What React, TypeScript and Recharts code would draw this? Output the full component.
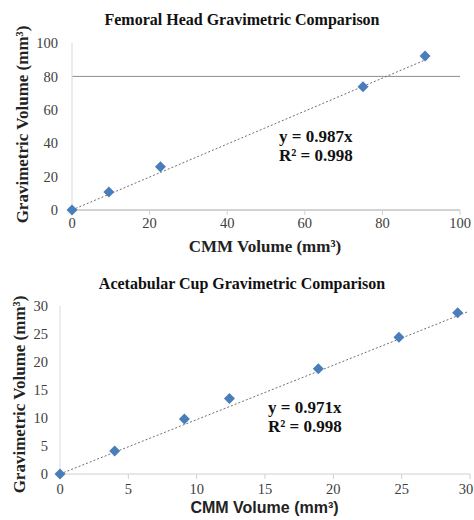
import React from 'react';
import {
    ScatterChart,
    Scatter,
    XAxis,
    YAxis,
    ReferenceLine,
} from 'recharts';

// Femoral head: CMM volume vs gravimetric volume (mm³)
const femCmm = [0, 9.5, 22.8, 75, 91];
const femGrav = [0, 10.8, 25.9, 73.8, 92.2];
const femSlope = 0.987;
const femTrendEnd = 92;
const femTicks = [0, 20, 40, 60, 80, 100];

// Acetabular cup
const cupCmm = [0, 4, 9.1, 12.4, 18.9, 24.8, 29.1];
const cupGrav = [0, 4.1, 9.8, 13.5, 18.8, 24.4, 28.8];
const cupSlope = 0.971;
const cupTrendEnd = 29.8;
const cupTicks = [0, 5, 10, 15, 20, 25, 30];

const SERIF = '"Liberation Serif", "Times New Roman", serif';
const SANS = '"Liberation Sans", Arial, sans-serif';
const BLUE = '#4a7ebb';

const toPoints = (xs: number[], ys: number[]) => xs.map((x, i) => ({ x, y: ys[i] }));
const trend = (slope: number, end: number) => [
    { x: 0, y: 0 },
    { x: end, y: slope * end },
];

const Diamond = (props: any) => {
    const { cx, cy } = props;
    const r = 5.5;
    return (
        <polygon
            points={`${cx},${cy - r} ${cx + r},${cy} ${cx},${cy + r} ${cx - r},${cy}`}
            fill={BLUE}
        />
    );
};

const NoDot = () => <g />;

// tick text drawn by hand so the serif font sticks
const tickTextStyle: React.CSSProperties = { fontFamily: SERIF, fontSize: 14.5 };
const XTick = (props: any) => (
    <text x={props.x} y={props.y} dy="0.71em" textAnchor="middle" fill="#404040" style={tickTextStyle}>
        {props.payload.value}
    </text>
);
const YTick = (props: any) => (
    <text x={props.x} y={props.y} dy="0.355em" textAnchor="end" fill="#404040" style={tickTextStyle}>
        {props.payload.value}
    </text>
);

const abs = (left: number, top: number): React.CSSProperties => ({
    position: 'absolute',
    left,
    top,
    whiteSpace: 'nowrap',
    lineHeight: 1,
});

const App = () => {
    return (
        <div style={{ position: 'absolute', left: 0, top: 0, width: 474, height: 520, background: '#fff', overflow: 'hidden', fontFamily: SERIF }}>
            {/* ---- top chart ---- */}
            <div style={{ position: 'absolute', left: 0, top: 0, width: 474, height: 258 }}>
                <ScatterChart width={474} height={258} margin={{ top: 43, right: 14, left: 0, bottom: 0 }}>
                    <XAxis
                        type="number"
                        dataKey="x"
                        domain={[0, 100]}
                        ticks={femTicks}
                        height={48}
                        stroke="#a6a6a6"
                        tickLine={{ stroke: '#d0d0d0' }}
                        tickSize={5}
                        tickMargin={3}
                        tick={XTick}
                    />
                    <YAxis
                        type="number"
                        dataKey="y"
                        domain={[0, 100]}
                        ticks={femTicks}
                        width={72}
                        stroke="#d9d9d9"
                        tickLine={false}
                        tickSize={0}
                        tickMargin={14}
                        tick={YTick}
                    />
                    <ReferenceLine y={80} stroke="#8c8c8c" strokeWidth={1} />
                    <Scatter
                        data={trend(femSlope, femTrendEnd)}
                        line={{ stroke: '#707070', strokeWidth: 1, strokeDasharray: '2 2' }}
                        shape={NoDot}
                        isAnimationActive={false}
                    />
                    <Scatter data={toPoints(femCmm, femGrav)} shape={Diamond} isAnimationActive={false} />
                </ScatterChart>
                <div style={{ ...abs(0, 12), width: 484, textAlign: 'center', fontFamily: SERIF, fontWeight: 'bold', fontSize: 16, color: '#111' }}>
                    Femoral Head Gravimetric Comparison
                </div>
                <div style={{ ...abs(0, 238), width: 530, textAlign: 'center', fontFamily: SERIF, fontWeight: 'bold', fontSize: 17, color: '#222' }}>
                    CMM Volume (mm³)
                </div>
                <div
                    style={{
                        ...abs(22 - 110, 125 - 9),
                        width: 220,
                        textAlign: 'center',
                        transform: 'rotate(-90deg)',
                        fontFamily: SERIF,
                        fontWeight: 'bold',
                        fontSize: 17,
                        color: '#222',
                    }}
                >
                    Gravimetric Volume (mm³)
                </div>
                <div style={{ ...abs(279, 127), fontFamily: SERIF, fontWeight: 'bold', fontSize: 17, color: '#111', lineHeight: '19px' }}>
                    y = 0.987x
                    <br />
                    R² = 0.998
                </div>
            </div>

            {/* ---- bottom chart ---- */}
            <div style={{ position: 'absolute', left: 0, top: 260, width: 474, height: 260 }}>
                <ScatterChart width={474} height={260} margin={{ top: 46, right: 4, left: 0, bottom: 0 }}>
                    <XAxis
                        type="number"
                        dataKey="x"
                        domain={[0, 30]}
                        ticks={cupTicks}
                        height={46}
                        stroke="#d0d0d0"
                        tickLine={{ stroke: '#d0d0d0' }}
                        tickSize={5}
                        tickMargin={5}
                        tick={XTick}
                    />
                    <YAxis
                        type="number"
                        dataKey="y"
                        domain={[0, 30]}
                        ticks={cupTicks}
                        width={60}
                        stroke="#d9d9d9"
                        tickLine={false}
                        tickSize={0}
                        tickMargin={12}
                        tick={YTick}
                    />
                    <Scatter
                        data={trend(cupSlope, cupTrendEnd)}
                        line={{ stroke: '#707070', strokeWidth: 1, strokeDasharray: '2 2' }}
                        shape={NoDot}
                        isAnimationActive={false}
                    />
                    <Scatter data={toPoints(cupCmm, cupGrav)} shape={Diamond} isAnimationActive={false} />
                </ScatterChart>
                <div style={{ ...abs(0, 16), width: 484, textAlign: 'center', fontFamily: SERIF, fontWeight: 'bold', fontSize: 16, color: '#111' }}>
                    Acetabular Cup Gravimetric Comparison
                </div>
                <div style={{ ...abs(0, 240), width: 529, textAlign: 'center', fontFamily: SANS, fontWeight: 'bold', fontSize: 16, color: '#222' }}>
                    CMM Volume (mm³)
                </div>
                <div
                    style={{
                        ...abs(19 - 110, 135 - 9),
                        width: 220,
                        textAlign: 'center',
                        transform: 'rotate(-90deg)',
                        fontFamily: SERIF,
                        fontWeight: 'bold',
                        fontSize: 17,
                        color: '#222',
                    }}
                >
                    Gravimetric Volume (mm³)
                </div>
                <div style={{ ...abs(268, 138), fontFamily: SERIF, fontWeight: 'bold', fontSize: 17, color: '#111', lineHeight: '19px' }}>
                    y = 0.971x
                    <br />
                    R² = 0.998
                </div>
            </div>
        </div>
    );
};

export default App;
